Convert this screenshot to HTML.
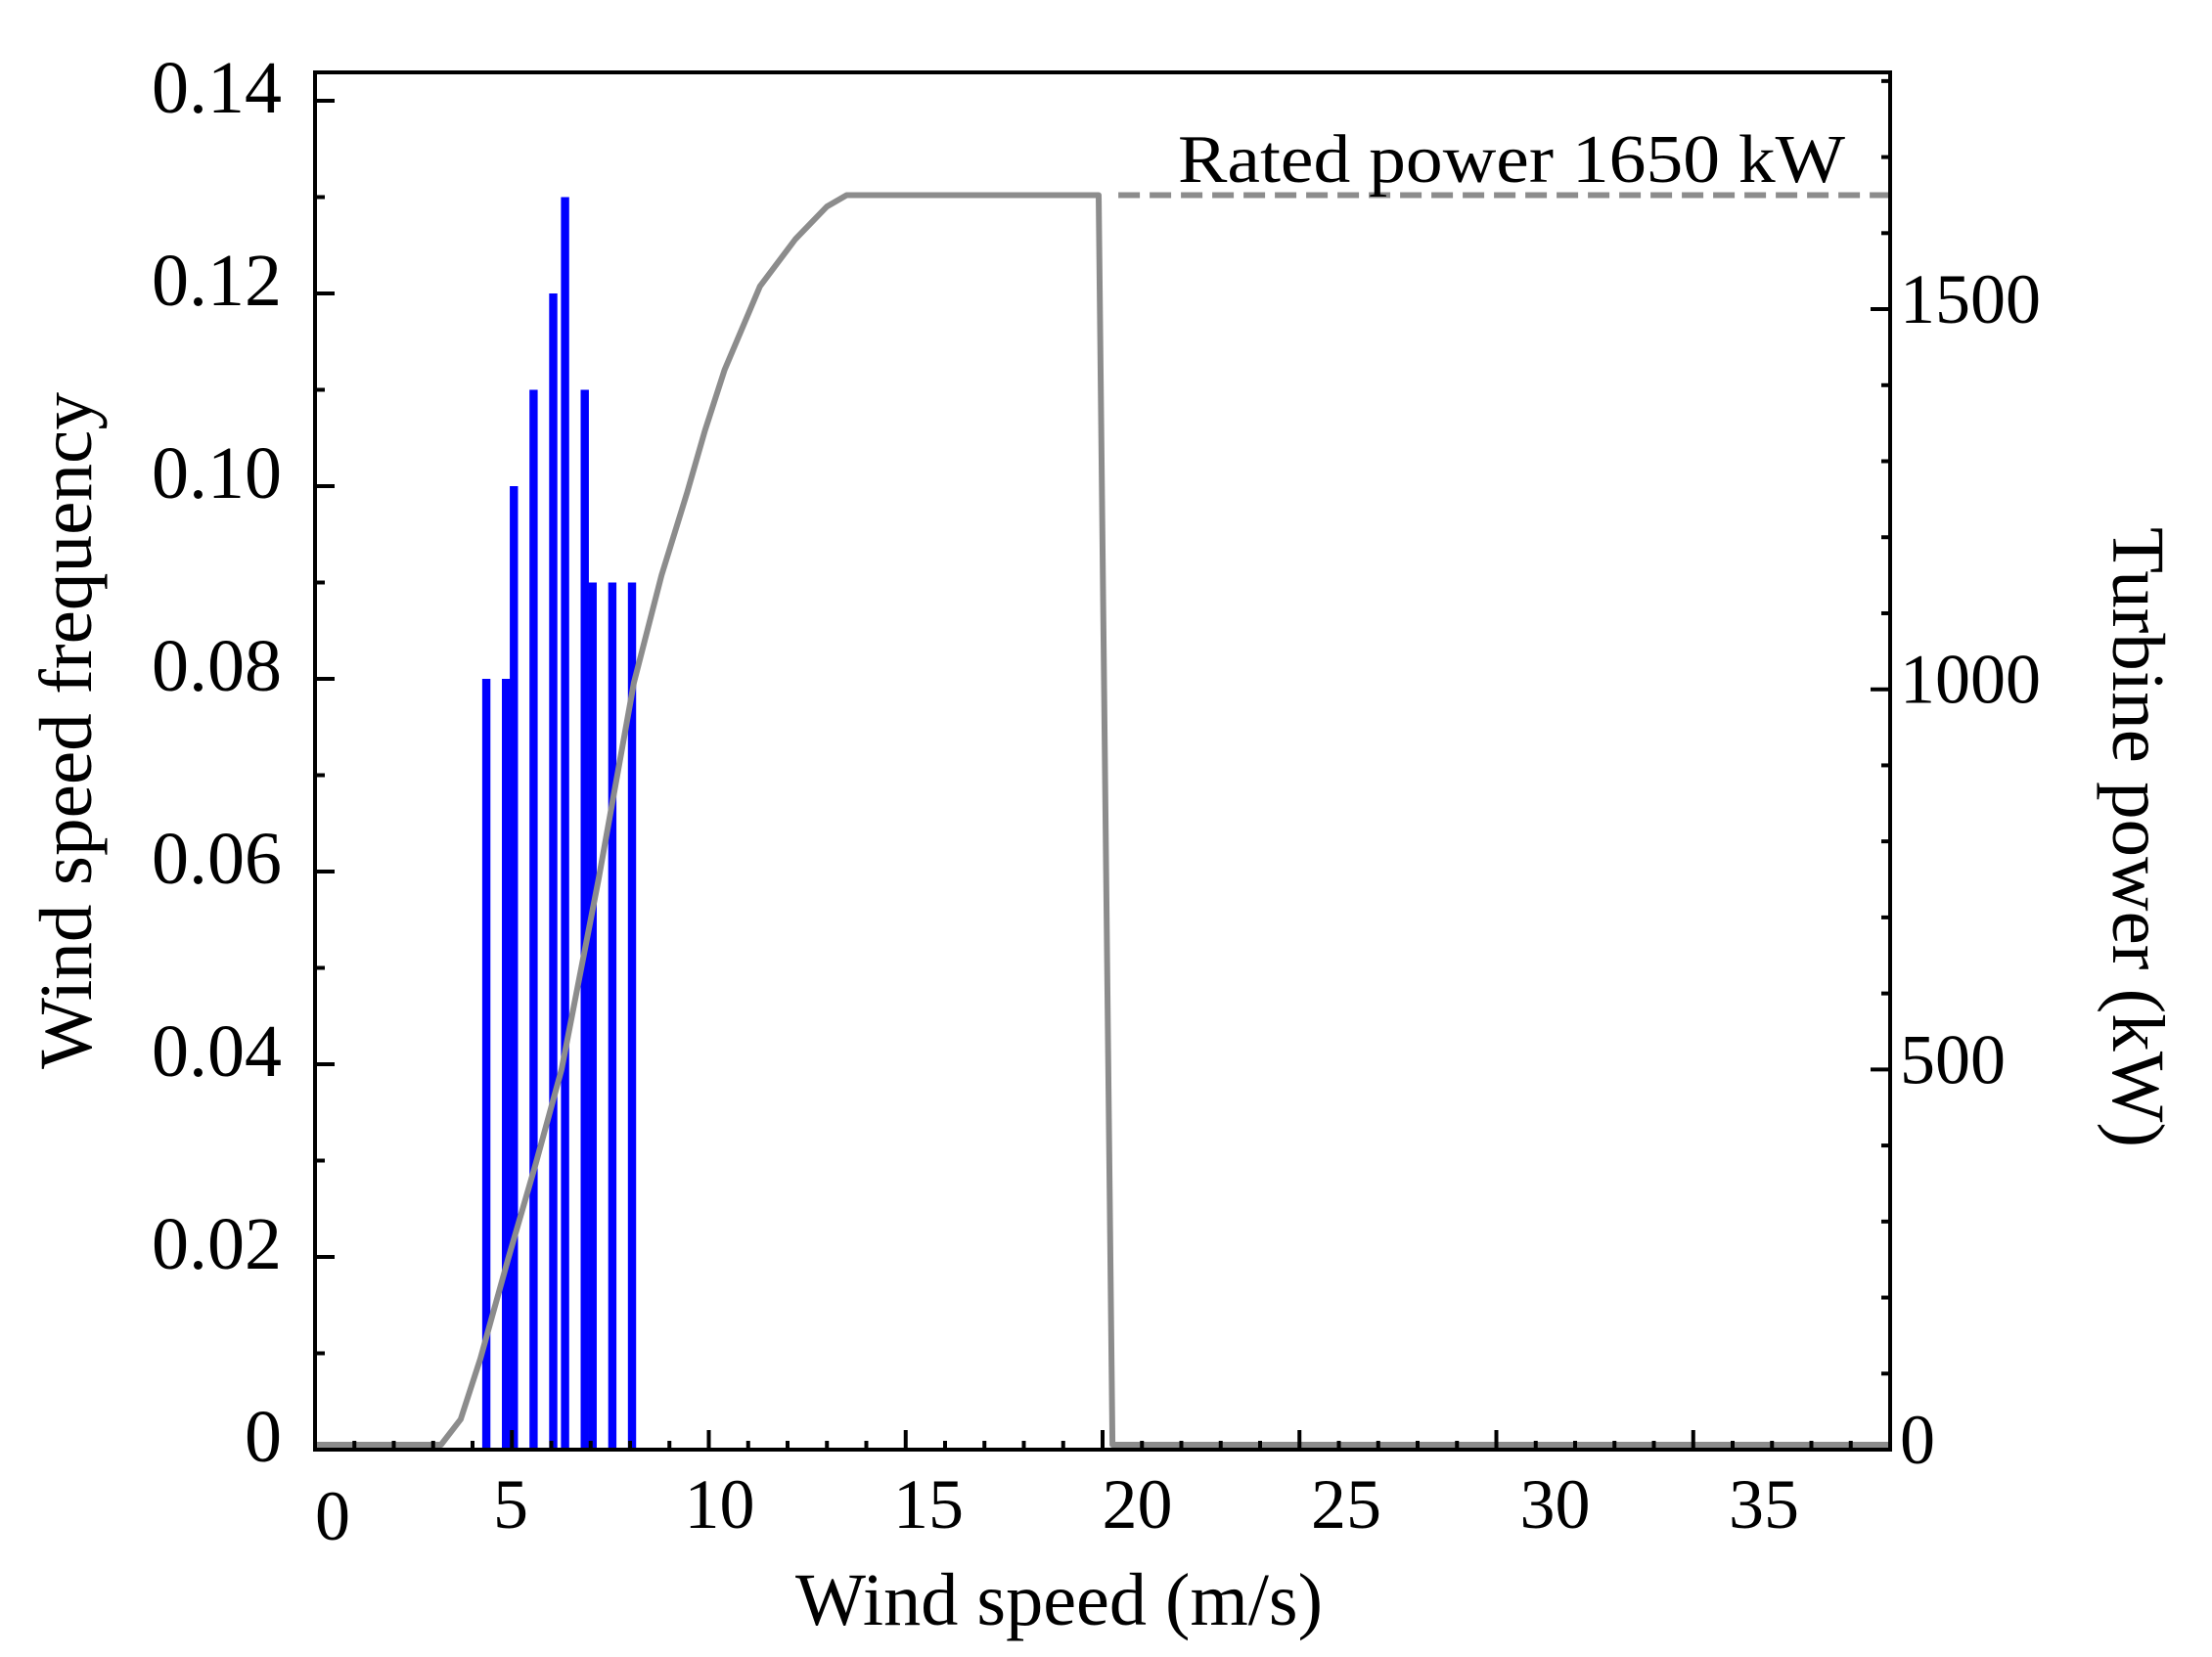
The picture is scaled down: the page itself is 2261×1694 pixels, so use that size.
<!DOCTYPE html>
<html><head><meta charset="utf-8"><style>
html,body{margin:0;padding:0;background:#fff;}
svg{display:block;}
text{font-family:"Liberation Serif",serif;fill:#000;}
</style></head><body>
<svg id="chart" width="2261" height="1694" viewBox="0 0 2261 1694" xmlns="http://www.w3.org/2000/svg">
<g id="bars"></g>
<g id="curve"></g>
<g id="axes"></g>
<text x="1204" y="186" font-size="70" textLength="682" lengthAdjust="spacingAndGlyphs">Rated power 1650 kW</text>
<text x="813" y="1661" font-size="76" textLength="539" lengthAdjust="spacingAndGlyphs">Wind speed (m/s)</text>
<text transform="translate(93,1093) rotate(-90)" x="0" y="0" font-size="76" textLength="692" lengthAdjust="spacingAndGlyphs">Wind speed frequency</text>
<text transform="translate(2160,539) rotate(90)" x="0" y="0" font-size="76" textLength="634" lengthAdjust="spacingAndGlyphs">Turbine power (kW)</text>
</svg>
<script>
const barSpeeds = [4.35, 4.85, 5.05, 5.55, 6.05, 6.35, 6.85, 7.05, 7.55, 8.05];
const barFreqs = [0.08, 0.08, 0.10, 0.11, 0.12, 0.13, 0.11, 0.09, 0.09, 0.09];
const curveSpeeds = [0, 3.2, 3.7, 4.2, 4.9, 5.6, 6.26, 7.2, 8.1, 8.8, 9.45, 9.9, 10.4, 11.3, 12.2, 13.0, 13.5, 19.9, 20.25, 40];
const curvePower = [0, 0, 40, 120, 250, 375, 500, 750, 1009, 1150, 1259, 1340, 1420, 1530, 1592, 1635, 1650, 1650, 0, 0];
const ratedSpeeds = [20.4, 40];
const ratedPower = [1650, 1650];
const xTicks = [0, 5, 10, 15, 20, 25, 30, 35];
const leftTicks = [0, 0.02, 0.04, 0.06, 0.08, 0.10, 0.12, 0.14];
const leftTickLabels = ["0", "0.02", "0.04", "0.06", "0.08", "0.10", "0.12", "0.14"];
const rightTicks = [0, 500, 1000, 1500];

const NS = "http://www.w3.org/2000/svg";
const L = 322, R = 1932, B = 1482, T = 74;
const xS = v => L + v * (R - L) / 40;
const yF = v => B - v * 9850;
const yP = v => B - v * 0.7773;
const xLab = v => v === 0 ? 340 : 522 + 42.7 * (v - 5);
function mk(tag, attrs, parent) {
  const e = document.createElementNS(NS, tag);
  for (const k in attrs) e.setAttribute(k, attrs[k]);
  parent.appendChild(e);
  return e;
}
const bars = document.getElementById('bars');
barSpeeds.forEach((s, i) => {
  const r = mk('rect', {x: xS(s) - 4.2, y: yF(barFreqs[i]), width: 8.4, height: B - yF(barFreqs[i]), fill: '#0000ff'}, bars);
  
  
});
const curve = document.getElementById('curve');
const pts = curveSpeeds.map((s, i) => xS(s).toFixed(1) + ',' + (yP(curvePower[i]) - (curvePower[i] === 0 ? 5 : 0)).toFixed(1)).join(' ');
const pl = mk('polyline', {points: pts, fill: 'none', stroke: '#8c8c8c', 'stroke-width': 6, 'stroke-linejoin': 'round'}, curve);


const dl = mk('line', {x1: xS(ratedSpeeds[0]), y1: yP(ratedPower[0]), x2: xS(ratedSpeeds[1]), y2: yP(ratedPower[1]), stroke: '#8c8c8c', 'stroke-width': 6, 'stroke-dasharray': '22 10'}, curve);



const axes = document.getElementById('axes');
const frame = mk('rect', {x: L, y: T, width: R - L, height: B - T, fill: 'none', stroke: '#000', 'stroke-width': 4}, axes);


for (let v = 0; v <= 40; v++) {
  const len = v % 5 === 0 ? 20 : 9;
  const t = mk('line', {x1: xS(v), y1: B, x2: xS(v), y2: B - len, stroke: '#000', 'stroke-width': 4}, axes);
  
  
}
xTicks.forEach(v => {
  const t = mk('text', {x: xLab(v), y: v === 0 ? 1574 : 1562, 'font-size': 72, 'text-anchor': 'middle'}, axes);
  t.textContent = String(v);
  
  
});
for (let i = 0; i <= 14; i++) {
  const v = i * 0.01;
  const len = i % 2 === 0 ? 20 : 10;
  const t = mk('line', {x1: L, y1: yF(v), x2: L + len, y2: yF(v), stroke: '#000', 'stroke-width': 4}, axes);
  
  
}
leftTicks.forEach((v, i) => {
  const t = mk('text', {x: 288, y: yF(v) + 12, 'font-size': 76, 'text-anchor': 'end'}, axes);
  t.textContent = leftTickLabels[i];
  
  
});
for (let v = 0; v <= 1800; v += 100) {
  const len = v % 500 === 0 ? 20 : 9;
  const t = mk('line', {x1: R, y1: yP(v), x2: R - len, y2: yP(v), stroke: '#000', 'stroke-width': 4}, axes);
  
  
}
rightTicks.forEach(v => {
  const t = mk('text', {x: 1942, y: yP(v) + 14, 'font-size': 72}, axes);
  t.textContent = String(v);
  
  
});
</script>
</body></html>
